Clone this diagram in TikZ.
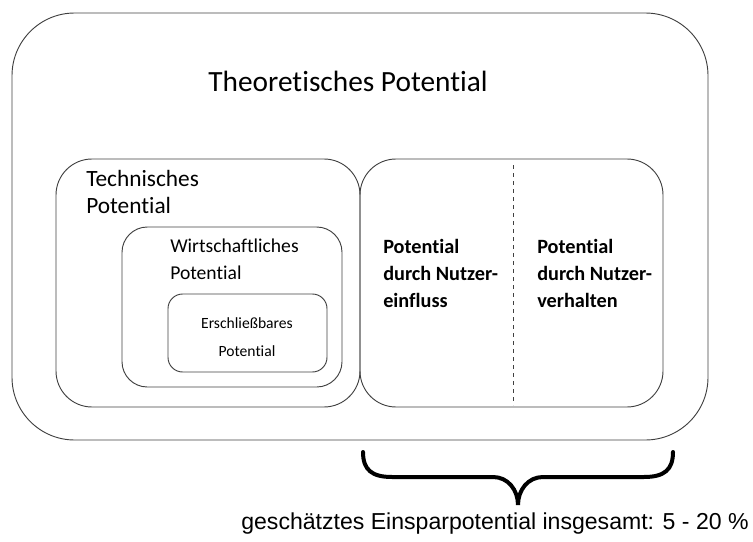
\documentclass[tikz,border=0pt]{standalone}
\usepackage{fontspec}
\setmainfont{Carlito}[Ligatures=NoCommon]
\newfontfamily\arialfont{Liberation Sans}

\begin{document}
\begin{tikzpicture}[x=0.75pt,y=-0.75pt,
    box/.style={draw=black!75,line width=0.7pt},
    txt/.style={anchor=base west,align=left,inner sep=0pt}]
   \useasboundingbox (0,0) rectangle (753,542);
   \draw[box,rounded corners=47pt] (12,13) rectangle (708,440);
   \draw[box,rounded corners=27pt] (56,159) rectangle (360,407);
   \draw[box,rounded corners=27pt] (360,159) rectangle (663,407);
   \draw[box,rounded corners=19pt] (122,227) rectangle (342,387);
   \draw[box,rounded corners=11pt] (168,294) rectangle (327,372);
   \draw[box,dashed,line width=0.6pt] (513,165) -- (513,405);
   % labels, anchored at the baseline of their last line
   \node (theo) at (348,92) [anchor=base,inner sep=0pt,font=\fontsize{22}{26}\selectfont] {Theoretisches Potential};
   \node (tech) at (86,213) [txt,font=\fontsize{17.5}{20.25}\selectfont] {Technisches\\Potential};
   \node (wirt) at (170,279) [txt,font=\fontsize{14.7}{20.25}\selectfont] {Wirtschaftliches\\Potential};
   \node (ersch) at (247,356) [anchor=base,align=center,inner sep=0pt,font=\fontsize{11.7}{21}\selectfont] {Erschließbares\\Potential};
   \node (einfl) at (383,307) [txt,font=\fontsize{15.2}{20.25}\bfseries] {Potential\\durch Nutzer-\\einfluss};
   \node (verh) at (537,307) [txt,font=\fontsize{15.2}{20.25}\bfseries] {Potential\\durch Nutzer-\\verhalten};
   \coordinate (tip) at (518,505);
   \draw[line width=3pt,line cap=round] (363,452) .. controls (363,470) and (372,477) .. (392,477) -- (493,477)
      .. controls (508,477) and (518,490) .. (tip) .. controls (518,490) and (528,477) .. (543,477) -- (644,477)
      .. controls (664,477) and (673,470) .. (673,452);
   \node (sum) at (495,529) [anchor=base,inner sep=0pt,font=\arialfont\fontsize{17.3}{20}\selectfont] {geschätztes Einsparpotential insgesamt: 5 - 20 \%};
  \end{tikzpicture}
\end{document}
